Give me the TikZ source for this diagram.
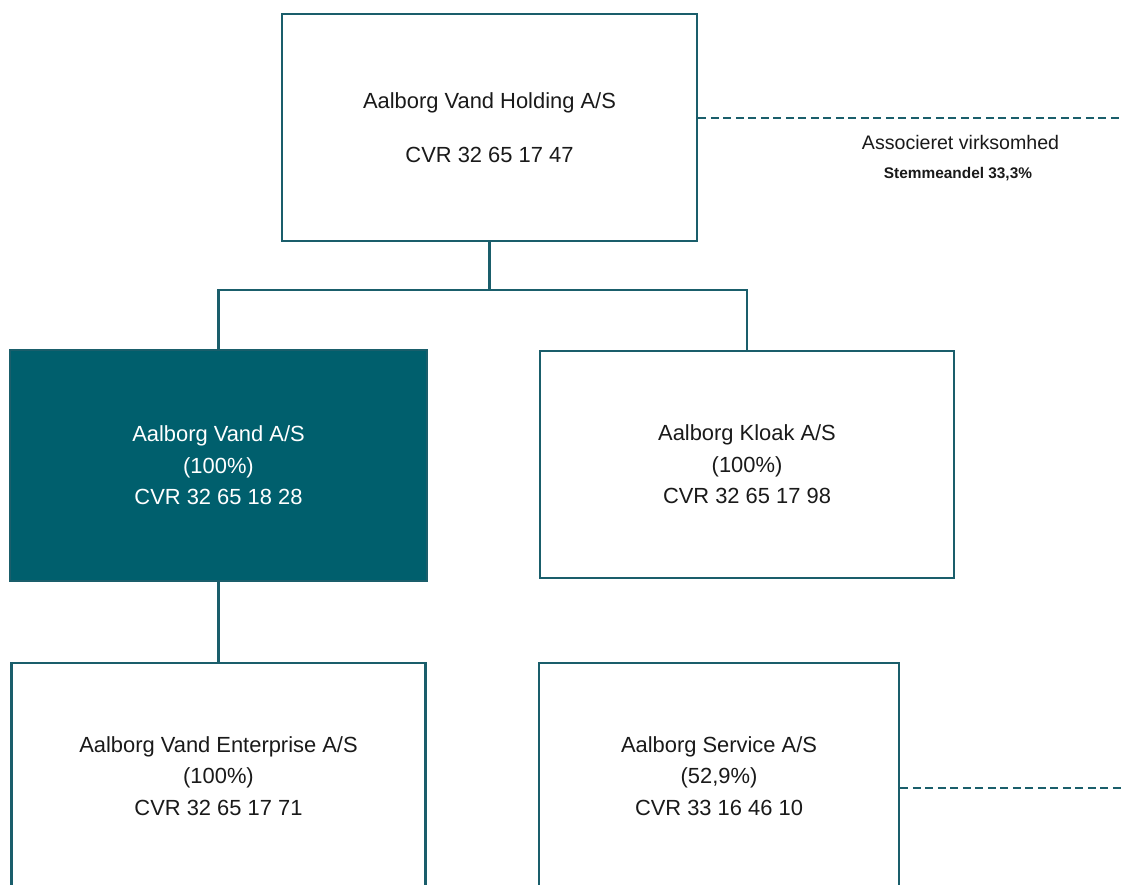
\documentclass[tikz,border=0pt]{standalone}
\usepackage{fontspec}
\setmainfont{Liberation Sans}
\definecolor{teal1}{HTML}{1A5E6B}
\definecolor{tealfill}{HTML}{005F6D}
\definecolor{txt}{HTML}{1A1A1A}
\begin{document}
\begin{tikzpicture}[x=1pt,y=-1pt,
  orgbox/.style={draw=teal1, line width=2.6pt, rectangle, inner sep=0pt, align=center,
    text=txt, font=\fontsize{21.9}{31.5}\selectfont},
  link/.style={draw=teal1, line width=2.6pt},
  dashlink/.style={draw=teal1, line width=2.6pt, dash pattern=on 8pt off 4.5pt}]
\useasboundingbox (0,0) rectangle (1123,885);
\clip (0,0) rectangle (1123,885);
\fill[white] (0,0) rectangle (1123,885);

\node[orgbox, minimum width=415, minimum height=227] (hold) at (489.5,127.5)
  {Aalborg Vand Holding A/S\\[22.5pt]CVR 32 65 17 47};
\node[orgbox, fill=tealfill, text=white, minimum width=417, minimum height=231] (vand) at (218.5,465.5)
  {Aalborg Vand A/S\\(100\%)\\CVR 32 65 18 28};
\node[orgbox, minimum width=414, minimum height=227] (kloak) at (747,464.5)
  {Aalborg Kloak A/S\\(100\%)\\CVR 32 65 17 98};
\node[orgbox, minimum width=414, minimum height=226] (ent) at (218.5,776)
  {Aalborg Vand Enterprise A/S\\(100\%)\\CVR 32 65 17 71};
\node[orgbox, minimum width=360, minimum height=226] (serv) at (719,776)
  {Aalborg Service A/S\\(52,9\%)\\CVR 33 16 46 10};

\coordinate (j) at (489.5,290);
\coordinate (e1) at (1130,118);
\coordinate (e2) at (1130,788);

\draw[link] (hold.south) -- (j);
\draw[link] (vand.north) |- (j) -| (kloak.north);
\draw[link] (vand.south) -- (ent.north);
\draw[dashlink] ([yshift=9.5pt]hold.east) -- (e1);
\draw[dashlink] ([yshift=-12pt]serv.east) -- (e2);

\node[anchor=base, text=txt, font=\fontsize{19.6}{22}\selectfont] (assoc) at (960.5,150) {Associeret virksomhed};
\node[anchor=base, text=txt, font=\fontsize{15.4}{18}\selectfont\bfseries] (stem) at (958,179) {Stemmeandel 33,3\%};
\end{tikzpicture}
\end{document}
